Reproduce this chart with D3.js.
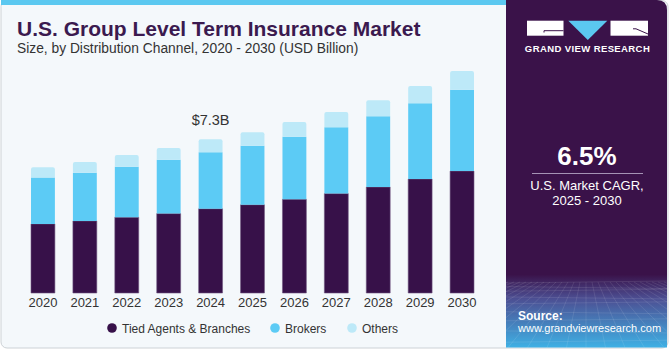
<!DOCTYPE html>
<html>
<head>
<meta charset="utf-8">
<script src="https://cdn.jsdelivr.net/npm/d3@7"></script>
<style>
  body { margin: 0; background: #ffffff; }
  svg { display: block; font-family: "Liberation Sans", Arial, sans-serif; }
</style>
</head>
<body>
<svg id="chart" width="670" height="350"></svg>
<script>
const years = ['2020','2021','2022','2023','2024','2025','2026','2027','2028','2029','2030'];
const tiedAgents = [3.28, 3.42, 3.60, 3.77, 4.00, 4.19, 4.45, 4.72, 5.03, 5.41, 5.79];
const brokers    = [2.20, 2.29, 2.40, 2.56, 2.68, 2.80, 2.97, 3.15, 3.37, 3.60, 3.86];
const others     = [0.49, 0.51, 0.56, 0.56, 0.62, 0.65, 0.70, 0.73, 0.76, 0.82, 0.89];
const seriesNames = ['Tied Agents & Branches', 'Brokers', 'Others'];
const colors = ['#371149', '#5ccbf5', '#bde9f8'];
const labelYear = '2024';
const labelText = '$7.3B';

const svg = d3.select('#chart');

// card background
svg.append('rect')
  .attr('x', 1).attr('y', 0.5).attr('width', 667).attr('height', 347.5)
  .attr('rx', 6).attr('fill', '#f4f8fb').attr('stroke', '#cdd2d6');
svg.append('rect')
  .attr('x', 1).attr('y', 0).attr('width', 506).attr('height', 5)
  .attr('fill', '#5bc8f0');

// title
svg.append('text')
  .attr('x', 17).attr('y', 36)
  .style('font-size', '21px').style('font-weight', 'bold')
  .attr('fill', '#3b1a4f')
  .text('U.S. Group Level Term Insurance Market');
svg.append('text')
  .attr('x', 17).attr('y', 53)
  .style('font-size', '13.8px')
  .attr('fill', '#333')
  .text('Size, by Distribution Channel, 2020 - 2030 (USD Billion)');

// chart
const x = d3.scaleBand()
  .domain(years)
  .range([22, 483])
  .paddingInner(0.43)
  .paddingOuter(0.215);
const y = d3.scaleLinear().domain([0, 7.3]).range([293, 139.3]);

const table = years.map((yr, i) => ({
  year: yr,
  [seriesNames[0]]: tiedAgents[i],
  [seriesNames[1]]: brokers[i],
  [seriesNames[2]]: others[i]
}));
const stacked = d3.stack().keys(seriesNames)(table);

const g = svg.append('g');
stacked.forEach((s, si) => {
  g.selectAll('path.s' + si)
    .data(s)
    .enter()
    .append('path')
    .attr('class', 's' + si)
    .attr('fill', colors[si])
    .attr('stroke', si === 0 ? '#6e5680' : 'none')
    .attr('stroke-width', 0.6)
    .attr('d', d => {
      const x0 = x(d.data.year), w = x.bandwidth();
      const yt = y(d[1]), yb = y(d[0]);
      const r = si === 2 ? 2 : 0;
      return `M${x0},${yb}V${yt + r}Q${x0},${yt} ${x0 + r},${yt}H${x0 + w - r}Q${x0 + w},${yt} ${x0 + w},${yt + r}V${yb}Z`;
    });
});

// value label
const labelIdx = years.indexOf(labelYear);
svg.append('text')
  .attr('x', x(labelYear) + x.bandwidth() / 2)
  .attr('y', y(tiedAgents[labelIdx] + brokers[labelIdx] + others[labelIdx]) - 14)
  .attr('text-anchor', 'middle')
  .style('font-size', '14.5px')
  .attr('fill', '#333')
  .text(labelText);

// x axis
const xAxis = svg.append('g')
  .attr('transform', 'translate(0,293)')
  .call(d3.axisBottom(x).tickSize(0).tickPadding(5));
xAxis.select('.domain').remove();
xAxis.selectAll('text')
  .style('font-size', '13px')
  .style('font-family', '"Liberation Sans", Arial, sans-serif')
  .attr('fill', '#333');

// legend
const legendX = [112, 275, 352];
const legend = svg.append('g');
seriesNames.forEach((name, i) => {
  legend.append('circle')
    .attr('cx', legendX[i]).attr('cy', 328).attr('r', 4.8)
    .attr('fill', colors[i]);
  legend.append('text')
    .attr('x', legendX[i] + 10).attr('y', 332.5)
    .style('font-size', '12px')
    .attr('fill', '#333')
    .text(name);
});

// right panel
const defs = svg.append('defs');
const grad = defs.append('linearGradient')
  .attr('id', 'panelGrad').attr('x1', 0).attr('y1', 0).attr('x2', 0).attr('y2', 1);
grad.append('stop').attr('offset', '0%').attr('stop-color', '#3a1249');
grad.append('stop').attr('offset', '79%').attr('stop-color', '#3a1249');
grad.append('stop').attr('offset', '86%').attr('stop-color', '#4c4f93');
grad.append('stop').attr('offset', '100%').attr('stop-color', '#3fb0e4');
const panelPath = 'M506,0H657Q667,0 667,10V347.5H506Z';
defs.append('clipPath').attr('id', 'panelClip')
  .append('path').attr('d', panelPath);

const panel = svg.append('g');
panel.append('path')
  .attr('d', panelPath)
  .attr('fill', 'url(#panelGrad)');

// faint perspective grid
const grid = panel.append('g').attr('clip-path', 'url(#panelClip)')
  .attr('stroke', '#ffffff').attr('stroke-opacity', 0.14).attr('stroke-width', 0.7).attr('fill', 'none');
d3.range(0, 12).forEach(k => {
  const yy = 283 + k * k * 0.55 + k * 3;
  grid.append('line').attr('x1', 506).attr('x2', 667).attr('y1', yy).attr('y2', yy + (k % 2 ? 2 : -2));
});
d3.range(-14, 15).forEach(k => {
  grid.append('line')
    .attr('x1', 586 + k * 6).attr('y1', 282)
    .attr('x2', 586 + k * 20).attr('y2', 350);
});

// logo
const logo = panel.append('g');
logo.append('rect').attr('x', 527).attr('y', 20.7).attr('width', 36.5).attr('height', 15).attr('fill', '#fff');
logo.append('path').attr('d', 'M544,32.5V30.7H563.5').attr('stroke', '#3a1249').attr('stroke-width', 1).attr('fill', 'none');
logo.append('path').attr('d', 'M568.3,20.7H607.3L587.8,40Z').attr('fill', '#5bc8f0');
logo.append('rect').attr('x', 610.5).attr('y', 20.7).attr('width', 37.5).attr('height', 15).attr('fill', '#fff');
logo.append('path').attr('d', 'M633,28.8H636L648,34').attr('stroke', '#3a1249').attr('stroke-width', 1).attr('fill', 'none');
logo.append('text')
  .attr('x', 587.5).attr('y', 52)
  .attr('text-anchor', 'middle')
  .style('font-size', '9.5px').style('font-weight', 'bold').style('letter-spacing', '0.4px')
  .attr('fill', '#fff')
  .text('GRAND VIEW RESEARCH');

// CAGR
panel.append('text')
  .attr('x', 587).attr('y', 165)
  .attr('text-anchor', 'middle')
  .style('font-size', '26px').style('font-weight', 'bold')
  .attr('fill', '#fff')
  .text('6.5%');
panel.append('line')
  .attr('x1', 532).attr('x2', 643).attr('y1', 173.5).attr('y2', 173.5)
  .attr('stroke', '#a593b5').attr('stroke-width', 1);
panel.append('text')
  .attr('x', 587).attr('y', 190)
  .attr('text-anchor', 'middle')
  .style('font-size', '13px')
  .attr('fill', '#fff')
  .text('U.S. Market CAGR,');
panel.append('text')
  .attr('x', 587).attr('y', 205)
  .attr('text-anchor', 'middle')
  .style('font-size', '13px')
  .attr('fill', '#fff')
  .text('2025 - 2030');

// source
panel.append('text')
  .attr('x', 518).attr('y', 319.5)
  .style('font-size', '12px').style('font-weight', 'bold')
  .attr('fill', '#fff')
  .text('Source:');
panel.append('text')
  .attr('x', 518).attr('y', 332)
  .style('font-size', '11px')
  .attr('fill', '#fff')
  .text('www.grandviewresearch.com');
</script>
</body>
</html>
